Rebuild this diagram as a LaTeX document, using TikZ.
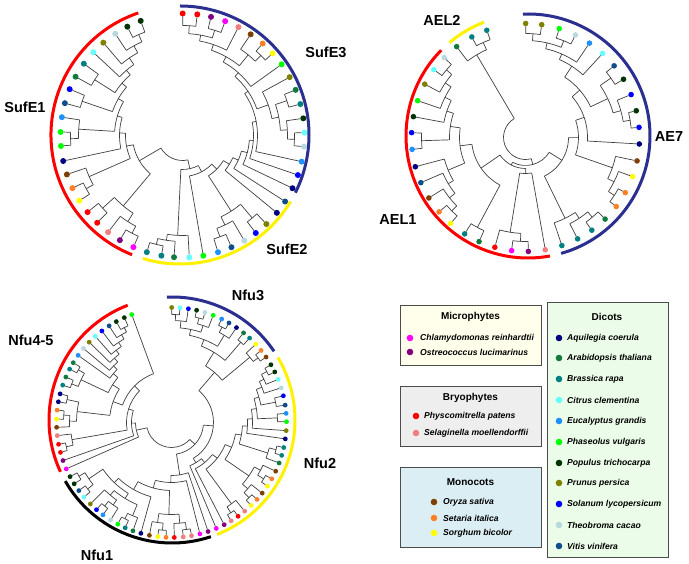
\documentclass[tikz,border=0pt]{standalone}
\usepackage{fontspec}
\setmainfont{Liberation Sans}
\definecolor{cChl}{HTML}{FF00FF}
\definecolor{cOst}{HTML}{800080}
\definecolor{cPhy}{HTML}{FF0000}
\definecolor{cSel}{HTML}{F08080}
\definecolor{cOry}{HTML}{7F3F00}
\definecolor{cSet}{HTML}{FF7F27}
\definecolor{cSor}{HTML}{FFFF00}
\definecolor{cAqu}{HTML}{000080}
\definecolor{cAra}{HTML}{117A3C}
\definecolor{cBra}{HTML}{008080}
\definecolor{cCit}{HTML}{66FFFF}
\definecolor{cEuc}{HTML}{1E90FF}
\definecolor{cPha}{HTML}{00FF00}
\definecolor{cPop}{HTML}{003300}
\definecolor{cPru}{HTML}{808000}
\definecolor{cSol}{HTML}{0000FF}
\definecolor{cThe}{HTML}{B8D8E0}
\definecolor{cVit}{HTML}{0F4C8C}
\definecolor{cRedArc}{HTML}{FF0000}
\definecolor{cBlueArc}{HTML}{2B2F8F}
\definecolor{cYelArc}{HTML}{FFF200}
\definecolor{fMic}{HTML}{FFFFEB}
\definecolor{fBry}{HTML}{EEEEEE}
\definecolor{fMon}{HTML}{DAEEF3}
\definecolor{fDic}{HTML}{EBFDE8}
\tikzset{
  br/.style={draw=black!75, line width=0.7pt},
  grp/.style={line width=3pt},
  lab/.style={font=\bfseries\fontsize{14.5}{16}\selectfont},
  lbox/.style={draw=black!70, line width=0.8pt, anchor=south west, inner sep=0pt},
  ltitle/.style={font=\bfseries\fontsize{10}{12}\selectfont, inner sep=0pt},
  litem/.style={anchor=west, inner sep=0pt, font=\bfseries\itshape\fontsize{8.6}{10}\selectfont},
}
\def\twrap{100}
% tree settings: leaf-centre x, y (pixel, y down), leaf radius, dot radius
\newcommand\tset[4]{\def\tcx{#1}\def\tcy{#2}\def\tlr{#3}\def\tdr{#4}}
\newcommand\zorg[2]{\def\zox{#1}\def\zoy{#2}}
\newcommand\lf[4]{%
  \pgfmathsetmacro\tmpa{atan2(\tcy-(\zoy+#3/3),(\zox+#2/3)-\tcx)}%
  \pgfmathsetmacro\tmpa{\tmpa<\twrap ? \tmpa+360 : \tmpa}%
  \pgfmathsetmacro\tmpr{\tlr-\tdr}%
  \expandafter\xdef\csname TA@#1\endcsname{\tmpa}%
  \expandafter\xdef\csname TR@#1\endcsname{\tmpr}%
  \fill[#4] (\tmpa:\tlr pt) circle[radius=\tdr pt];}
\newcommand\cl[3]{%
  \foreach \ch [count=\ci] in {#3}{%
    \edef\chA{\csname TA@\ch\endcsname}\edef\chR{\csname TR@\ch\endcsname}%
    \draw[br] (\chA:#2pt) -- (\chA:\chR pt);%
    \ifnum\ci=1 \xdef\cfirst{\chA}\fi
    \xdef\clast{\chA}}%
  \draw[br] (\cfirst:#2pt) arc[start angle=\cfirst, end angle=\clast, radius=#2pt];%
  \pgfmathsetmacro\tmpa{(\cfirst+\clast)/2}%
  \expandafter\xdef\csname TA@#1\endcsname{\tmpa}%
  \expandafter\xdef\csname TR@#1\endcsname{#2}}
% group arcs: centre \acx,\acy (pixel, y down)
\newcommand\garc[6]{%
  \pgfmathsetmacro\ga{atan2(\acy-(#3),(#2)-\acx)}\pgfmathsetmacro\ga{\ga<\twrap ? \ga+360 : \ga}%
  \pgfmathsetmacro\gb{atan2(\acy-(#5),(#4)-\acx)}\pgfmathsetmacro\gb{\gb<\twrap ? \gb+360 : \gb}%
  \pgfmathsetmacro\gy{564-\acy}%
  \draw[grp,#1] ([shift={(\ga:#6pt)}]\acx pt,\gy pt) arc[start angle=\ga, end angle=\gb, radius=#6pt];}
\begin{document}
\begin{tikzpicture}[x=1pt,y=1pt]
\useasboundingbox (0,0) rectangle (689,564);
\fill[white] (0,0) rectangle (689,564);
%================ Tree 1: SufE =================
\begin{scope}[shift={(182.5,428.5)}]
\tset{182.5}{135.5}{122}{3}
\zorg{0}{0}
\lf{s1}{423}{65}{cPop}\lf{s2}{383}{82}{cPop}\lf{s3}{347}{103}{cThe}\lf{s4}{310}{128}{cPru}
\lf{s5}{280}{157}{cCit}\lf{s6}{254}{193}{cBra}\lf{s7}{230}{232}{cAra}\lf{s8}{210}{268}{cSol}
\lf{s9}{196}{310}{cVit}\lf{s10}{188}{352}{cEuc}\lf{s11}{183}{396}{cPha}\lf{s12}{183}{438}{cPha}
\lf{s13}{190}{483}{cAqu}\lf{s14}{202}{523}{cOry}\lf{s15}{216}{565}{cSet}\lf{s16}{238}{602}{cSor}
\lf{s17}{262}{637}{cPhy}\lf{s18}{292}{668}{cPhy}\lf{s19}{324}{697}{cSel}\lf{s20}{360}{720}{cOst}
\lf{s21}{400}{742}{cChl}
\lf{t1}{548}{40}{cPhy}\lf{t2}{592}{42}{cPhy}\lf{t3}{632}{55}{cOst}\lf{t4}{675}{65}{cChl}
\lf{t5}{715}{82}{cSel}\lf{t6}{752}{103}{cOry}\lf{t7}{786}{133}{cSet}\lf{t8}{818}{160}{cSor}
\lf{t9}{845}{193}{cPha}\lf{t10}{868}{232}{cPru}\lf{t11}{886}{270}{cAra}\lf{t12}{902}{312}{cBra}
\lf{t13}{910}{355}{cPop}\lf{t14}{912}{398}{cCit}\lf{t15}{912}{440}{cThe}\lf{t16}{905}{485}{cEuc}
\lf{t17}{893}{525}{cSol}\lf{t18}{878}{565}{cAqu}
\lf{u1}{856}{605}{cVit}\lf{u2}{830}{638}{cAqu}\lf{u3}{800}{673}{cPru}\lf{u4}{768}{700}{cSol}
\lf{u5}{733}{722}{cThe}\lf{u6}{695}{743}{cVit}\lf{u7}{655}{760}{cEuc}\lf{u8}{610}{768}{cPha}
\lf{u9}{568}{773}{cCit}\lf{u10}{522}{773}{cAra}\lf{u11}{484}{768}{cBra}\lf{u12}{440}{758}{cBra}
\cl{x12}{110}{s1,s2}\cl{x13}{102}{x12,s3}\cl{x14}{94}{x13,s4}\cl{x15}{86}{x14,s5}
\cl{x67}{104}{s6,s7}\cl{x17}{80}{x15,x67}\cl{x89}{106}{s8,s9}\cl{x19}{74}{x17,x89}
\cl{x1112}{112}{s11,s12}\cl{x1012}{104}{s10,x1112}\cl{x112}{68}{x19,x1012}\cl{x113}{63}{x112,s13}
\cl{x1516}{110}{s15,s16}\cl{x1416}{102}{s14,x1516}\cl{x116}{57}{x113,x1416}
\cl{x1718}{108}{s17,s18}\cl{x2021}{110}{s20,s21}\cl{x1921}{102}{s19,x2021}\cl{x1721}{92}{x1718,x1921}
\cl{E1}{50}{x116,x1721}
\cl{a12}{110}{t1,t2}\cl{a34}{110}{t3,t4}\cl{a14}{102}{a12,a34}\cl{a15}{96}{a14,t5}
\cl{a78}{112}{t7,t8}\cl{a68}{104}{t6,a78}\cl{a18}{90}{a15,a68}\cl{a19}{84}{a18,t9}
\cl{a1112}{110}{t11,t12}\cl{a1415}{112}{t14,t15}\cl{a1315}{105}{t13,a1415}\cl{a1115}{98}{a1112,a1315}
\cl{a1015}{91}{t10,a1115}\cl{a115}{79}{a19,a1015}\cl{a116}{75}{a115,t16}\cl{a117}{71}{a116,t17}
\cl{a118}{67}{a117,t18}
\cl{c34}{108}{u3,u4}\cl{c67}{108}{u6,u7}\cl{c57}{99}{u5,c67}\cl{c37}{90}{c34,c57}
\cl{c1112}{112}{u11,u12}\cl{c1012}{106}{u10,c1112}\cl{c912}{100}{u9,c1012}
\cl{b1}{61}{a118,u1}\cl{b2}{55}{b1,u2}\cl{b3}{48}{b2,c37}\cl{b4}{41}{b3,u8}\cl{b5}{34}{b4,c912}
\cl{root1}{25}{E1,b5}
\end{scope}
\def\acx{180}\def\acy{135}
\garc{cRedArc}{138}{12}{132}{255}{129}
\garc{cBlueArc}{180}{5}{298}{194}{129}
\garc{cYelArc}{143}{258}{293}{203}{129}
\node[lab] (sufe1) at (25,457) {SufE1};
\node[lab] (sufe3) at (326,512) {SufE3};
\node[lab] (sufe2) at (287,315) {SufE2};
%================ Tree 2: AE =================
\begin{scope}[shift={(525.5,426.5)}]
\tset{525.5}{137.5}{114}{2.8}
\zorg{395}{5}
\lf{e1}{185}{125}{cAra}\lf{e2}{230}{95}{cBra}\lf{e3}{275}{75}{cBra}
\lf{f1}{148}{158}{cThe}\lf{f2}{118}{195}{cCit}\lf{f3}{90}{238}{cPru}\lf{f4}{68}{287}{cPha}
\lf{f5}{55}{335}{cPop}\lf{f6}{50}{383}{cSol}\lf{f7}{53}{433}{cEuc}\lf{f8}{62}{485}{cAqu}
\lf{f9}{80}{532}{cVit}\lf{f10}{103}{578}{cOry}\lf{f11}{133}{620}{cSet}\lf{f12}{167}{655}{cSor}
\lf{f13}{210}{685}{cBra}\lf{f14}{253}{708}{cAra}
\zorg{360}{0}
\lf{f15}{405}{740}{cPhy}\lf{f16}{455}{750}{cChl}\lf{f17}{505}{755}{cOst}\lf{f18}{555}{745}{cSel}
\zorg{480}{5}
\lf{g1}{137}{55}{cPru}\lf{g2}{185}{60}{cPru}\lf{g3}{238}{70}{cPha}\lf{g4}{287}{88}{cThe}
\lf{g5}{328}{115}{cEuc}\lf{g6}{368}{145}{cCit}\lf{g7}{403}{182}{cVit}\lf{g8}{432}{222}{cPop}
\lf{g9}{455}{268}{cSol}\lf{g10}{470}{317}{cPop}\lf{g11}{478}{367}{cSol}\lf{g12}{478}{417}{cAqu}
\lf{g13}{472}{468}{cOry}\lf{g14}{458}{515}{cSor}\lf{g15}{436}{563}{cSet}\lf{g16}{408}{604}{cSet}
\lf{g17}{375}{642}{cAra}\lf{g18}{335}{675}{cBra}\lf{g19}{292}{700}{cBra}\lf{g20}{245}{720}{cBra}
\cl{e23}{104}{e2,e3}\cl{E2}{96}{e1,e23}
\cl{h12}{104}{f1,f2}\cl{h13}{97}{h12,f3}\cl{h14}{90}{h13,f4}\cl{h15}{83}{h14,f5}
\cl{h67}{104}{f6,f7}\cl{h17}{76}{h15,h67}
\cl{h1112}{104}{f11,f12}\cl{h1012}{97}{f10,h1112}\cl{h912}{90}{f9,h1012}\cl{h812}{84}{f8,h912}
\cl{h112}{66}{h17,h812}\cl{h1314}{102}{f13,f14}\cl{h114}{54}{h112,h1314}
\cl{h1617}{104}{f16,f17}\cl{h1517}{96}{f15,h1617}\cl{V}{36}{h1517,f18}\cl{AEa}{31}{h114,V}
\cl{k12}{104}{g1,g2}\cl{k34}{104}{g3,g4}\cl{k14}{97}{k12,k34}\cl{k15}{91}{k14,g5}\cl{k16}{85}{k15,g6}
\cl{k78}{104}{g7,g8}\cl{k1011}{106}{g10,g11}\cl{k911}{99}{g9,k1011}\cl{k711}{91}{k78,k911}
\cl{k111}{72}{k16,k711}\cl{k112}{62}{k111,g12}
\cl{k1516}{106}{g15,g16}\cl{k1416}{99}{g14,k1516}\cl{k1316}{92}{g13,k1416}\cl{k116}{53}{k112,k1316}
\cl{k1718}{104}{g17,g18}\cl{k1719}{97}{k1718,g19}\cl{k1720}{90}{k1719,g20}
\cl{AEb}{43}{k116,k1720}\cl{X2}{28}{AEa,AEb}\cl{root2}{22}{E2,X2}
\end{scope}
\def\acx{528}\def\acy{136}
\garc{cYelArc}{449}{42}{484}{22}{122}
\garc{cRedArc}{441}{50}{550}{256}{122}
\garc{cBlueArc}{523}{15}{561}{253}{122}
\node[lab] (ael2) at (442,544) {AEL2};
\node[lab] (ae7) at (669,427) {AE7};
\node[lab] (ael1) at (398,344) {AEL1};
%================ Tree 3: Nfu =================
\begin{scope}[shift={(171.5,141.5)}]
\tset{171.5}{422.5}{115}{2.4}
\zorg{40}{295}
\lf{n1}{275}{58}{cPha}\lf{n2}{253}{68}{cPop}\lf{n3}{228}{78}{cPop}\lf{n4}{207}{92}{cVit}
\lf{n5}{185}{107}{cSol}\lf{n6}{165}{123}{cCit}\lf{n7}{148}{142}{cPru}\lf{n8}{130}{160}{cThe}
\lf{n9}{113}{180}{cEuc}\lf{n10}{98}{202}{cAra}\lf{n11}{88}{222}{cBra}\lf{n12}{75}{245}{cAra}
\lf{n13}{67}{270}{cBra}\lf{n14}{58}{296}{cAqu}\lf{n15}{53}{320}{cAqu}\lf{n16}{48}{345}{cSet}
\lf{n17}{47}{372}{cSor}\lf{n18}{48}{397}{cOry}\lf{n19}{51}{422}{cSel}\lf{n20}{55}{448}{cPhy}
\lf{n21}{62}{472}{cPhy}\lf{n22}{68}{497}{cOst}\lf{n23}{78}{522}{cChl}
\lf{m1}{90}{545}{cPop}\lf{m2}{100}{568}{cPop}\lf{m3}{115}{588}{cVit}\lf{m4}{130}{608}{cCit}
\lf{m5}{150}{628}{cPru}\lf{m6}{167}{647}{cSol}\lf{m7}{187}{662}{cEuc}\lf{m8}{210}{678}{cThe}
\lf{m9}{232}{690}{cPha}\lf{m10}{255}{700}{cBra}\lf{m11}{278}{710}{cAra}\lf{m12}{302}{717}{cAqu}
\zorg{130}{295}
\lf{m13}{58}{722}{cOry}\lf{m14}{83}{728}{cSor}\lf{m15}{108}{730}{cSet}\lf{m16}{133}{730}{cPhy}
\lf{m17}{160}{728}{cSel}\lf{m18}{185}{725}{cSel}\lf{m19}{210}{718}{cChl}\lf{m20}{235}{712}{cOst}
\lf{y1}{260}{703}{cChl}\lf{y2}{283}{690}{cOst}\lf{y3}{305}{680}{cSel}\lf{y4}{325}{665}{cPhy}
\lf{y5}{347}{652}{cSel}\lf{y6}{365}{633}{cSor}\lf{y7}{383}{615}{cSet}\lf{y8}{400}{597}{cOry}
\lf{y9}{415}{575}{cSor}\lf{y10}{428}{553}{cSet}\lf{y11}{440}{530}{cOry}\lf{y12}{450}{505}{cAra}
\lf{y13}{458}{482}{cBra}\lf{y14}{463}{458}{cBra}\lf{y15}{468}{432}{cAqu}\lf{y16}{470}{407}{cPru}
\lf{y17}{472}{380}{cPha}\lf{y18}{470}{355}{cEuc}\lf{y19}{468}{330}{cVit}\lf{y20}{462}{302}{cSol}
\lf{y21}{455}{278}{cThe}\lf{y22}{445}{253}{cCit}\lf{y23}{436}{230}{cPop}\lf{y24}{425}{208}{cPop}
\lf{z1}{125}{37}{cPru}\lf{z2}{150}{37}{cCit}\lf{z3}{175}{42}{cSol}\lf{z4}{200}{45}{cPop}
\lf{z5}{225}{52}{cThe}\lf{z6}{250}{60}{cPha}\lf{z7}{275}{72}{cEuc}\lf{z8}{298}{82}{cVit}
\lf{z9}{320}{97}{cAqu}\lf{z10}{342}{112}{cAra}\lf{z11}{360}{128}{cBra}\lf{z12}{378}{147}{cSor}
\lf{z13}{395}{165}{cSet}\lf{z14}{410}{185}{cOry}
\cl{p23}{106}{n2,n3}\cl{p24}{101}{p23,n4}\cl{p25}{96}{p24,n5}\cl{p26}{91}{p25,n6}
\cl{p27}{86}{p26,n7}\cl{p28}{81}{p27,n8}\cl{p29}{76}{p28,n9}
\cl{p1011}{107}{n10,n11}\cl{p1213}{107}{n12,n13}\cl{p1013}{100}{p1011,p1213}\cl{p913}{70}{p29,p1013}
\cl{p1415}{107}{n14,n15}\cl{p1617}{108}{n16,n17}\cl{p1618}{102}{p1617,n18}\cl{p1418}{95}{p1415,p1618}
\cl{p918}{62}{p913,p1418}\cl{p118}{52}{n1,p918}
\cl{p2021}{108}{n20,n21}\cl{p1921}{101}{n19,p2021}\cl{p121}{45}{p118,p1921}
\cl{p122}{40}{p121,n22}\cl{Nfa}{36}{p122,n23}
\cl{q12}{107}{m1,m2}\cl{q34}{107}{m3,m4}\cl{q14}{100}{q12,q34}
\cl{q67}{107}{m6,m7}\cl{q68}{101}{q67,m8}\cl{q58}{95}{m5,q68}
\cl{q910}{107}{m9,m10}\cl{q911}{101}{q910,m11}\cl{q511}{89}{q58,q911}
\cl{q111}{83}{q14,q511}\cl{q112}{77}{q111,m12}
\cl{q1415}{108}{m14,m15}\cl{q1315}{101}{m13,q1415}\cl{q1718}{108}{m17,m18}\cl{q1618}{101}{m16,q1718}
\cl{q1318}{92}{q1315,q1618}\cl{q118}{68}{q112,q1318}\cl{q119}{60}{q118,m19}\cl{Nfb}{53}{q119,m20}
\cl{w34}{108}{y3,y4}\cl{w35}{101}{w34,y5}
\cl{w67}{108}{y6,y7}\cl{w68}{101}{w67,y8}\cl{w910}{108}{y9,y10}\cl{w911}{101}{w910,y11}\cl{w611}{94}{w68,w911}
\cl{w1314}{108}{y13,y14}\cl{w1214}{101}{y12,w1314}
\cl{w2324}{108}{y23,y24}\cl{w2224}{102}{y22,w2324}\cl{w2124}{97}{y21,w2224}
\cl{w1920}{106}{y19,y20}\cl{w1924}{91}{w1920,w2124}\cl{w1718}{106}{y17,y18}\cl{w1724}{86}{w1718,w1924}
\cl{w1624}{81}{y16,w1724}\cl{w1524}{76}{y15,w1624}\cl{w1224}{71}{w1214,w1524}
\cl{w624}{65}{w611,w1224}\cl{w324}{58}{w35,w624}\cl{w224}{52}{y2,w324}\cl{Nfc}{47}{y1,w224}
\cl{v12}{108}{z1,z2}\cl{v13}{102}{v12,z3}\cl{v45}{108}{z4,z5}\cl{v46}{102}{v45,z6}\cl{v16}{95}{v13,v46}
\cl{v78}{108}{z7,z8}\cl{v79}{102}{v78,z9}\cl{v19}{89}{v16,v79}\cl{v1011}{106}{z10,z11}\cl{v111}{82}{v19,v1011}
\cl{v1314}{108}{z13,z14}\cl{v1214}{102}{z12,v1314}\cl{Nfd}{66}{v111,v1214}
\cl{W3}{42}{Nfc,Nfd}\cl{U3}{32}{Nfb,W3}\cl{root3}{25}{Nfa,U3}
\end{scope}
\def\acx{172}\def\acy{420}
\garc{cRedArc}{128}{306}{58}{473}{123}
\garc{black}{62}{483}{212}{540}{123}
\garc{cYelArc}{277}{358}{218}{537}{123}
\garc{cBlueArc}{167}{298}{273}{352}{123}
\node[lab] (nfu3) at (248,269) {Nfu3};
\node[lab] (nfu45) at (31,224) {Nfu4-5};
\node[lab] (nfu2) at (320,101) {Nfu2};
\node[lab] (nfu1) at (97,9) {Nfu1};
%================ Legend =================
\node[lbox, fill=fMic, minimum width=141pt, minimum height=60pt] (micbox) at (400,198) {};
\node[ltitle] (mict) at (470.5,247) {Microphytes};
\fill[cChl] (410,226) circle[radius=3.3pt]; \node[litem] (ichl) at (420,226) {Chlamydomonas reinhardtii};
\fill[cOst] (410,212) circle[radius=3.3pt]; \node[litem] (iost) at (420,212) {Ostreococcus lucimarinus};
\node[lbox, fill=fBry, minimum width=141pt, minimum height=60pt] (brybox) at (400,117) {};
\node[ltitle] (bryt) at (470.5,166) {Bryophytes};
\fill[cPhy] (416,148) circle[radius=3.3pt]; \node[litem] (iphy) at (424,148) {Physcomitrella patens};
\fill[cSel] (416,131) circle[radius=3.3pt]; \node[litem] (isel) at (424,131) {Selaginella moellendorffii};
\node[lbox, fill=fMon, minimum width=141pt, minimum height=80pt] (monbox) at (400,16) {};
\node[ltitle] (mont) at (470.5,82) {Monocots};
\fill[cOry] (434,62) circle[radius=3.3pt]; \node[litem] (iory) at (443,62) {Oryza sativa};
\fill[cSet] (434,46) circle[radius=3.3pt]; \node[litem] (iset) at (443,46) {Setaria italica};
\fill[cSor] (434,31) circle[radius=3.3pt]; \node[litem] (isor) at (443,31) {Sorghum bicolor};
\node[lbox, fill=fDic, minimum width=121pt, minimum height=255pt] (dicbox) at (547,6) {};
\node[ltitle] (dict) at (607,247) {Dicots};
\foreach \nm/\col/\yy/\txt in {aqu/cAqu/226/Aquilegia coerula, ara/cAra/206/Arabidopsis thaliana,
  bra/cBra/185/Brassica rapa, cit/cCit/164/Citrus clementina, euc/cEuc/143/Eucalyptus grandis,
  pha/cPha/122/Phaseolus vulgaris, pop/cPop/101/Populus trichocarpa, pru/cPru/81/Prunus persica,
  sol/cSol/60/Solanum lycopersicum, the/cThe/39/Theobroma cacao, vit/cVit/18/Vitis vinifera}{
  \fill[\col] (559,\yy) circle[radius=3.3pt];
  \node[litem] (i\nm) at (567,\yy) {\txt};
}
\end{tikzpicture}
\end{document}
